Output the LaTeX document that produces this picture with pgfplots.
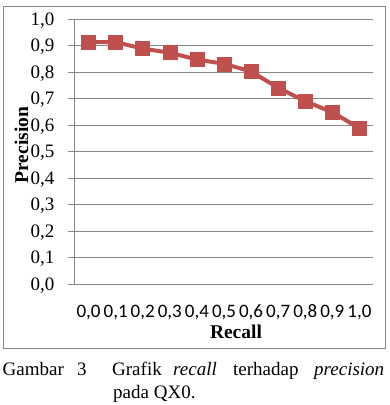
\documentclass[border=0pt]{standalone}
\usepackage{fontspec}
\setmainfont{Liberation Serif}
\newfontfamily\calibri{Carlito}
\usepackage{pgfplots}
\pgfplotsset{compat=1.18}
\definecolor{exred}{HTML}{C0504D}
\definecolor{gridgray}{HTML}{878787}
\begin{document}
\begin{tikzpicture}[x=1pt,y=1pt]
\path (0,0) rectangle (389,-405);
\draw[gridgray, line width=1pt] (3.5,-6.5) rectangle (385.5,-348);
\begin{axis}[at={(75pt,-284pt)}, anchor=south west, scale only axis,
  width=298pt, height=265pt,
  xmin=-0.5, xmax=10.5, ymin=0, ymax=1,
  axis x line*=bottom, axis y line*=left,
  axis line style={gridgray, line width=1pt},
  xtick={0,1,2,3,4,5,6,7,8,9,10},
  xticklabels={{0,0},{0,1},{0,2},{0,3},{0,4},{0,5},{0,6},{0,7},{0,8},{0,9},{1,0}},
  xtick style={draw=none},
  xticklabel style={font=\calibri\fontsize{19}{19}\selectfont, anchor=base, yshift=-26.5pt, inner sep=0pt},
  ytick={0,0.1,0.2,0.3,0.4,0.5,0.6,0.7,0.8,0.9,1},
  yticklabels={{0,0},{0,1},{0,2},{0,3},{0,4},{0,5},{0,6},{0,7},{0,8},{0,9},{1,0}},
  yticklabel style={font=\fontsize{19}{19}\selectfont, anchor=base east, yshift=-6.4pt, inner sep=0pt, xshift=-13.5pt},
  tick align=outside, major tick length=7pt,
  ytick style={gridgray, line width=1pt},
  ymajorgrids, grid style={gridgray, line width=1pt},
  clip=false,
]
\addplot[exred, line width=4pt, mark=square*, mark size=7pt,
  mark options={fill=exred, draw=exred, line width=0.5pt}]
  coordinates {(0,0.912) (1,0.913) (2,0.888) (3,0.873) (4,0.847) (5,0.831) (6,0.802) (7,0.740) (8,0.690) (9,0.648) (10,0.588)};
\end{axis}
\node[font=\bfseries\fontsize{19.5}{19.5}\selectfont, anchor=base] at (236,-338) {Recall};
\node[font=\bfseries\fontsize{19.5}{19.5}\selectfont, anchor=base, rotate=90] at (28,-145) {Precision};
\begin{scope}[every node/.style={anchor=base west, inner sep=0pt, font=\fontsize{19}{19}\selectfont}]
\node at (2.5,-375) {Gambar};
\node at (77,-375) {3};
\node at (112,-375) {Grafik};
\node at (173,-375) {\itshape recall};
\node at (233,-375) {terhadap};
\node at (314,-375) {\itshape precision};
\node at (113,-398) {pada QX0.};
\end{scope}
\end{tikzpicture}
\end{document}
